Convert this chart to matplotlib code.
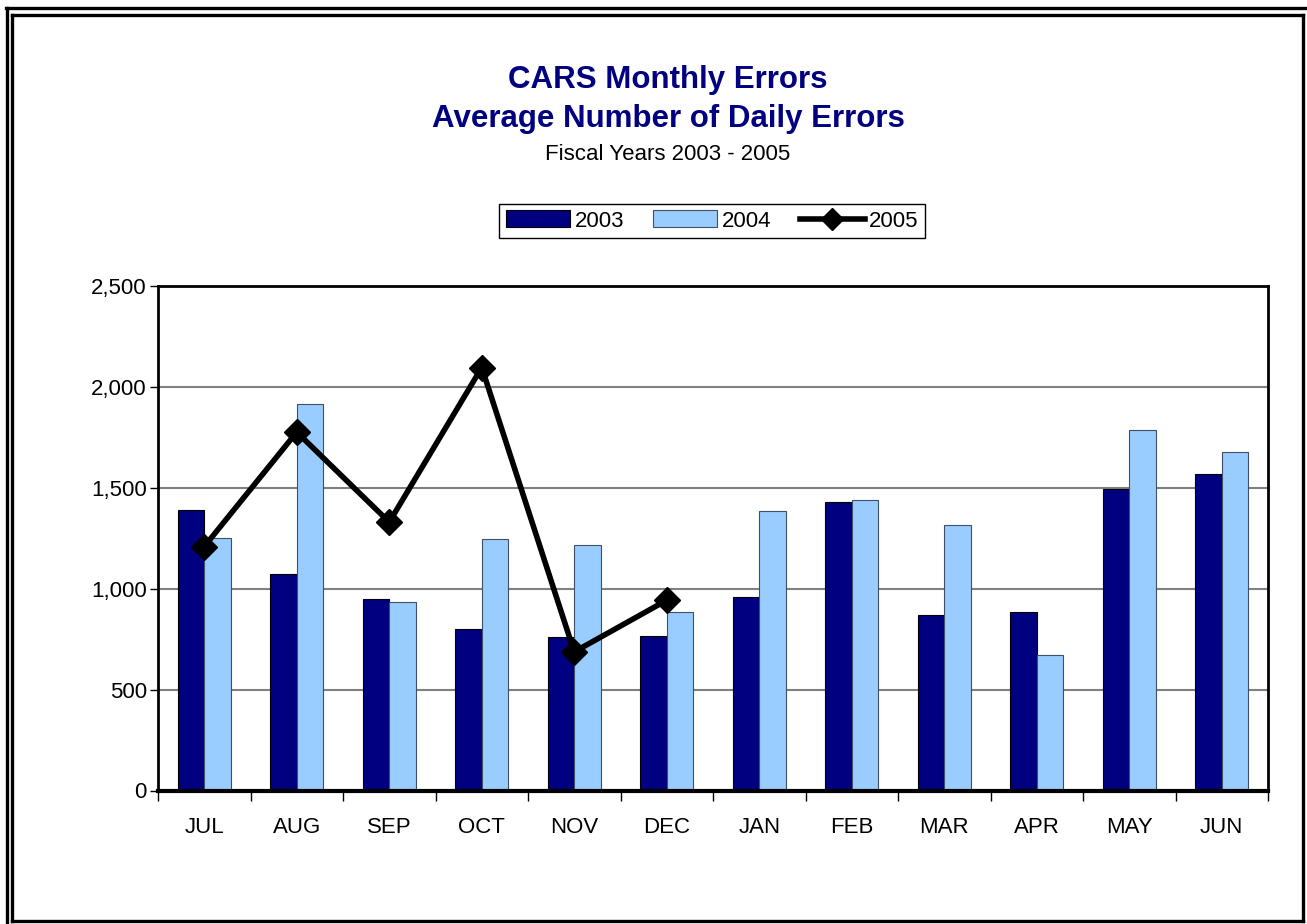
import matplotlib
matplotlib.use("Agg")
import matplotlib.pyplot as plt
from matplotlib.lines import Line2D
from matplotlib.patches import Patch
from matplotlib.ticker import FuncFormatter, FixedLocator
import numpy as np

plt.rcParams['font.family'] = ['Liberation Sans', 'DejaVu Sans']

months = ['JUL', 'AUG', 'SEP', 'OCT', 'NOV', 'DEC', 'JAN', 'FEB', 'MAR', 'APR', 'MAY', 'JUN']
fy2003 = [1390, 1072, 948, 799, 759, 768, 961, 1430, 872, 885, 1496, 1570]
fy2004 = [1250, 1915, 936, 1246, 1219, 887, 1384, 1442, 1318, 671, 1786, 1676]
fy2005 = [1209, 1776, 1330, 2096, 687, 943]

W, H = 1307, 924
fig = plt.figure(figsize=(W / 100, H / 100), dpi=100)

# plot area
ax = fig.add_axes([158 / W, 1 - 790.5 / H, (1268 - 158) / W, (790.5 - 286) / H])

x = np.arange(len(months))
bw = 0.285
ax.bar(x - bw / 2, fy2003, width=bw, color='#000080', edgecolor='black', linewidth=0.8, zorder=2)
ax.bar(x + bw / 2, fy2004, width=bw, color='#99CCFF', edgecolor='#3f4f66', linewidth=0.8, zorder=2)
ax.plot(x[:len(fy2005)], fy2005, color='black', linewidth=4, marker='D',
        markersize=13, markerfacecolor='black', zorder=4)

ax.set_xlim(-0.5, 11.5)
ax.set_ylim(0, 2500)
ax.set_yticks(range(0, 2501, 500))
ax.yaxis.set_major_formatter(FuncFormatter(lambda v, p: f"{int(v):,}"))
ax.grid(axis='y', color='#808080', linewidth=1.5, zorder=0)
ax.set_axisbelow(True)

ax.set_xticks(x)
ax.set_xticklabels(months, fontsize=16)
ax.tick_params(axis='x', which='major', length=0, pad=19)
ax.xaxis.set_minor_locator(FixedLocator(np.arange(-0.5, 12, 1.0)))
ax.tick_params(axis='x', which='minor', length=7, width=1, direction='out', color='black')
ax.tick_params(axis='y', length=6, width=1, direction='out', labelsize=16, pad=2)

for side in ['top', 'right', 'left']:
    ax.spines[side].set_linewidth(2)
    ax.spines[side].set_color('black')
ax.spines['bottom'].set_linewidth(3)

# titles
fig.text(668 / W, 1 - 80 / H, 'CARS Monthly Errors', ha='center', va='center',
         fontsize=22.5, fontweight='bold', color='#000080')
fig.text(668 / W, 1 - 119 / H, 'Average Number of Daily Errors', ha='center', va='center',
         fontsize=22.5, fontweight='bold', color='#000080')
fig.text(668 / W, 1 - 155 / H, 'Fiscal Years 2003 - 2005', ha='center', va='center',
         fontsize=16, color='black')

# legend
handles = [Patch(facecolor='#000080', edgecolor='black', linewidth=0.8),
           Patch(facecolor='#99CCFF', edgecolor='#3f4f66', linewidth=0.8),
           Line2D([], [], color='black', linewidth=4, marker='D', markersize=11)]
leg = fig.legend(handles, ['2003', '2004', '2005'], loc='center',
                 bbox_to_anchor=(712 / W, 1 - 221 / H), ncol=3, fontsize=16,
                 frameon=True, fancybox=False, edgecolor='black', framealpha=1,
                 handlelength=2.9, handleheight=0.8, handletextpad=0.2,
                 columnspacing=1.3, borderpad=0.3)
leg.get_frame().set_linewidth(1)

# outer double frame
def fline(xs, ys, lw):
    fig.add_artist(Line2D([v / W for v in xs], [1 - v / H for v in ys],
                          color='black', linewidth=lw, transform=fig.transFigure))

fline([6, 1306], [8, 8], 2.4)
fline([7, 7], [8, 924], 2.4)
fline([12.5, 1303], [14.5, 14.5], 2.4)
fline([12.5, 12.5], [14.5, 921], 2.4)
fline([1303, 1303], [14.5, 921], 2.4)
fline([12.5, 1303], [921, 921], 2.4)

fig.savefig('out.png', dpi=100)
